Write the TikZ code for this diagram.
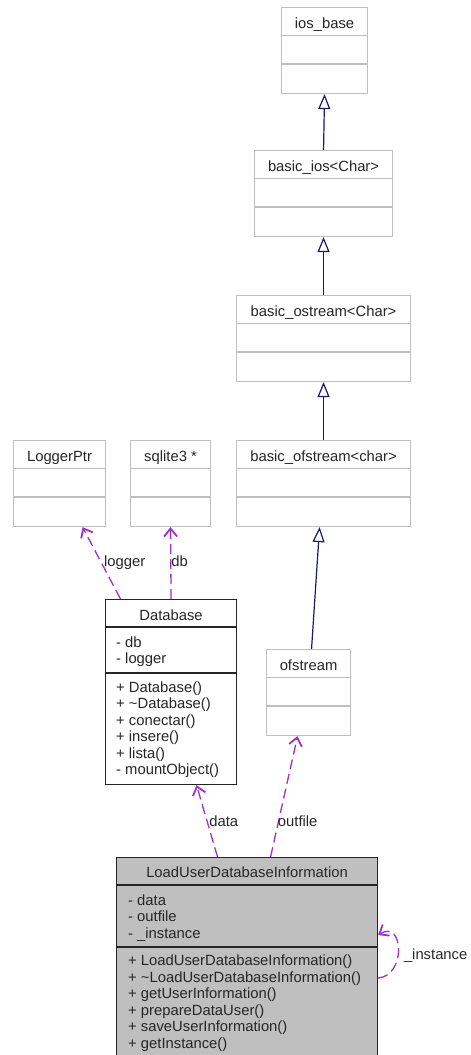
\documentclass[tikz,border=0pt]{standalone}
\usepackage{fontspec}
\setmainfont{Liberation Sans}
\usetikzlibrary{arrows.meta,calc}
\definecolor{boxgrey}{HTML}{BFBFBF}
\definecolor{deppurple}{HTML}{9A32CD}
\definecolor{inhblue}{HTML}{191970}

\begin{document}
\begin{tikzpicture}[x=1pt, y=1pt,
    every node/.style={font=\fontsize{14.8}{16.5}\selectfont, inner sep=0pt, text=black!85},
    cls/.style={draw=boxgrey, line width=1.1pt, fill=white, anchor=north west, minimum height=86, inner sep=0pt},
    inherit/.style={inhblue, line width=1.2pt, -{Triangle[open, length=15pt, width=12pt, fill=white]}},
    uses/.style={deppurple, line width=1.3pt, dash pattern=on 10pt off 5pt, -{Straight Barb[length=8pt, width=13pt, line width=1.8pt]}}]

    \useasboundingbox (0,0) rectangle (471,-1055);

    % classes with empty compartments
    \foreach \n/\x/\y/\w/\lbl in {iosbase/281/7/86/ios\_base,
        basicios/254/150/138/basic\_ios<Char>,
        ostream/236/295/174/basic\_ostream<Char>,
        bofstream/236/440/174/basic\_ofstream<char>,
        loggerptr/13/440/92/LoggerPtr,
        sqlite/130/440/80/sqlite3 *,
        ofstream/266/649/84/ofstream} {
        \node[cls, minimum width=\w] (\n) at (\x,-\y) {};
        \node[anchor=base] (\n title) at ($(\n.north)+(0,-21)$) {\lbl};
        \draw[boxgrey, line width=1.1pt] ($(\n.north west)+(0,-28.5)$) -- ($(\n.north east)+(0,-28.5)$)
            ($(\n.north west)+(0,-57)$) -- ($(\n.north east)+(0,-57)$);
    }

    % Database
    \node[cls, draw=black!85, minimum width=131, minimum height=185] (database) at (105,-599) {};
    \node[anchor=base] (databasetitle) at ($(database.north)+(0,-21)$) {Database};
    \draw[black!85, line width=1.1pt] ($(database.north west)+(0,-28)$) -- ($(database.north east)+(0,-28)$)
        ($(database.north west)+(0,-74)$) -- ($(database.north east)+(0,-74)$);
    \foreach \s [count=\i] in {- db, - logger}
        \node[anchor=base west] (dbattr\i) at (116,{-647-16.5*(\i-1)}) {\s};
    \foreach \s [count=\i] in {+ Database(), + \textasciitilde{}Database(), + conectar(), + insere(), + lista(), - mountObject()}
        \node[anchor=base west] (dbop\i) at (116,{-692-16.5*(\i-1)}) {\s};

    % LoadUserDatabaseInformation
    \node[cls, draw=black!85, fill=boxgrey, minimum width=261, minimum height=215] (ludi) at (116,-857) {};
    \node[anchor=base] (ludititle) at ($(ludi.north)+(0,-20.5)$) {LoadUserDatabaseInformation};
    \draw[black!85, line width=1.1pt] ($(ludi.north west)+(0,-28)$) -- ($(ludi.north east)+(0,-28)$)
        ($(ludi.north west)+(0,-90)$) -- ($(ludi.north east)+(0,-90)$);
    \foreach \s [count=\i] in {- data, - outfile, - \_instance}
        \node[anchor=base west] (ludiattr\i) at (128,{-905-16.5*(\i-1)}) {\s};
    \foreach \s [count=\i] in {+ LoadUserDatabaseInformation(), + \textasciitilde{}LoadUserDatabaseInformation(),
        + getUserInformation(), + prepareDataUser(), + saveUserInformation(), + getInstance()}
        \node[anchor=base west] (ludiop\i) at (128,{-965.5-16.5*(\i-1)}) {\s};

    % inheritance
    \draw[inherit] (basicios.north) -- (iosbase.south);
    \draw[inherit] (ostream.north) -- (basicios.south);
    \draw[inherit] (bofstream.north) -- (ostream.south);
    \draw[inherit] ([xshift=3]ofstream.north) -- ([xshift=-4]bofstream.south);

    % usage
    \draw[uses] ([xshift=-50.5]database.north) -- ([xshift=23]loggerptr.south)
        node[pos=0.45, anchor=base west] (loggerlbl) {logger};
    \draw[uses] (database.north) -- (sqlite.south)
        node[pos=0.45, anchor=base west] (dblbl) {db};
    \draw[uses] ([xshift=-29.5]ludi.north) -- ([xshift=25.5]database.south)
        node[pos=0.42, anchor=base west] (datalbl) {data};
    \draw[uses] ([xshift=23.5]ludi.north) -- ([xshift=-11]ofstream.south)
        node[pos=0.25, anchor=base west] (outfilelbl) {outfile};
    \draw[uses] ([yshift=-121]ludi.north east) .. controls +(28,2) and +(26,16) .. ([yshift=-78]ludi.north east)
        node[pos=0.5, anchor=west, xshift=5, yshift=-6] (instlbl) {\_instance};

\end{tikzpicture}
\end{document}
